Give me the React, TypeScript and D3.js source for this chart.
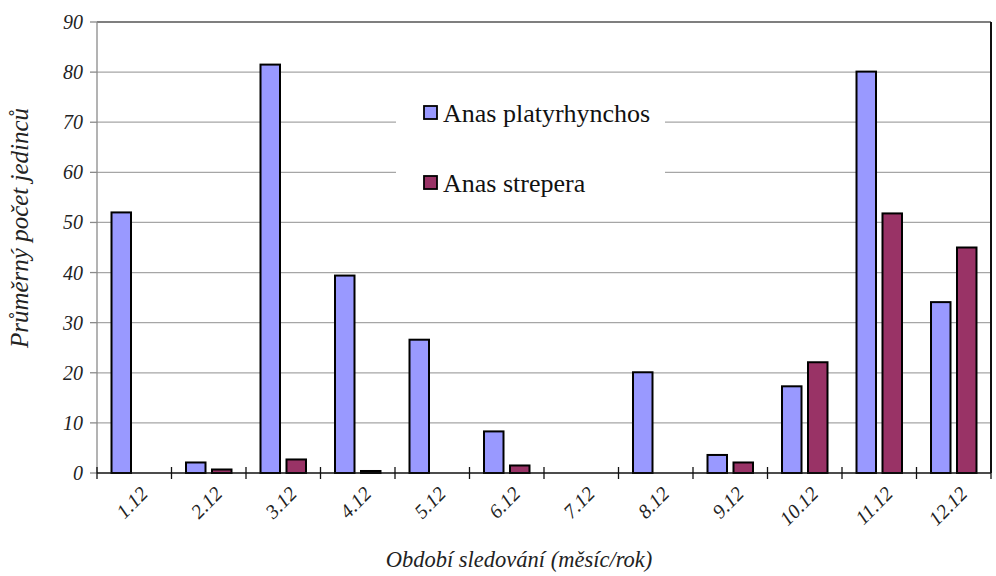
import React from "react";
import * as d3 from "d3";

// Monthly periods (month.year)
const categories = ["1.12", "2.12", "3.12", "4.12", "5.12", "6.12", "7.12", "8.12", "9.12", "10.12", "11.12", "12.12"];
const seriesNames = ["Anas platyrhynchos", "Anas strepera"];
const platyrhynchos = [52, 2.1, 81.5, 39.4, 26.6, 8.3, 0, 20.1, 3.6, 17.3, 80.1, 34.1];
const strepera = [0, 0.7, 2.7, 0.4, 0, 1.5, 0, 0, 2.1, 22.1, 51.8, 45];
const yTicks = [0, 10, 20, 30, 40, 50, 60, 70, 80, 90];
const colors = ["#9999FF", "#993366"];

const W = 996;
const H = 576;
const left = 97;
const right = 991;
const top = 22;
const bottom = 473;
const serif = { fontFamily: '"Liberation Serif"' };

export default function App() {
  const x0 = d3.scaleBand<string>().domain(categories).range([left, right]).paddingInner(0).paddingOuter(0);
  const x1 = d3
    .scaleBand<string>()
    .domain(seriesNames)
    .range([0, x0.bandwidth()])
    .paddingInner(0.25)
    .paddingOuter(0.558);
  const y = d3.scaleLinear().domain([0, 90]).range([bottom, top]);
  const series = [platyrhynchos, strepera];

  return (
    <svg width={W} height={H} style={{ position: "fixed", left: 0, top: 0, background: "#fff" }}>
      <rect x={0} y={0} width={W} height={H} fill="#fff" />
      {/* gridlines */}
      {yTicks.map((t) =>
        t === 0 ? null : (
          <line
            key={"g" + t}
            x1={left}
            x2={right}
            y1={y(t)}
            y2={y(t)}
            stroke={t === 90 ? "#555" : "#a6a6a6"}
            strokeWidth={t === 90 ? 1.5 : 1.3}
          />
        )
      )}
      {/* legend background */}
      <rect x={396} y={86} width={269} height={124} fill="#fff" />
      {/* right frame */}
      <line x1={right} x2={right} y1={top} y2={bottom} stroke="#111" strokeWidth={2} />
      {/* y axis */}
      <line x1={left} x2={left} y1={top} y2={bottom} stroke="#8a8a8a" strokeWidth={1.3} />
      {yTicks.map((t) => (
        <g key={"yt" + t}>
          <line x1={left - 7} x2={left} y1={y(t)} y2={y(t)} stroke="#8a8a8a" strokeWidth={1.3} />
          <text
            x={83}
            y={y(t)}
            dy="0.35em"
            textAnchor="end"
            fontSize={20}
            fontStyle="italic"
            fill="#222"
            style={serif}
          >
            {t}
          </text>
        </g>
      ))}
      {/* bars */}
      {categories.map((c, i) => (
        <g key={"c" + c} transform={`translate(${x0(c)},0)`}>
          {seriesNames.map((s, k) => {
            const v = series[k][i];
            if (v <= 0) return null;
            return (
              <rect
                key={s}
                x={x1(s)}
                y={y(v)}
                width={x1.bandwidth()}
                height={bottom - y(v)}
                fill={colors[k]}
                stroke="#000"
                strokeWidth={2}
              />
            );
          })}
        </g>
      ))}
      {/* x axis */}
      <line x1={left} x2={right} y1={bottom} y2={bottom} stroke="#111" strokeWidth={1.5} />
      {d3.range(categories.length + 1).map((i) => {
        const xx = left + x0.step() * i;
        return <line key={"xt" + i} x1={xx} x2={xx} y1={bottom - 6} y2={bottom + 6} stroke="#111" strokeWidth={1.3} />;
      })}
      {categories.map((c) => {
        const cx = (x0(c) as number) + x0.bandwidth() / 2 + 5;
        const cy = bottom + 12;
        return (
          <text
            key={"xl" + c}
            transform={`translate(${cx},${cy}) rotate(-45)`}
            textAnchor="end"
            dy="0.7em"
            fontSize={20}
            fontStyle="italic"
            fill="#222"
            style={serif}
          >
            {c}
          </text>
        );
      })}
      {/* legend */}
      {seriesNames.map((s, k) => (
        <g key={"lg" + s} transform={`translate(424,${113 + k * 70})`}>
          <rect x={0} y={-7} width={13} height={13} fill={colors[k]} stroke="#000" strokeWidth={1.8} />
          <text x={19} y={0} dy="0.35em" fontSize={26} fill="#111" style={serif}>
            {s}
          </text>
        </g>
      ))}
      {/* axis titles */}
      <text
        transform={`translate(28,228) rotate(-90)`}
        textAnchor="middle"
        fontSize={25}
        fontStyle="italic"
        fill="#222"
        style={serif}
      >
        Průměrný počet jedinců
      </text>
      <text x={519} y={567} textAnchor="middle" fontSize={22.5} fontStyle="italic" fill="#222" style={serif}>
        Období sledování (měsíc/rok)
      </text>
    </svg>
  );
}
